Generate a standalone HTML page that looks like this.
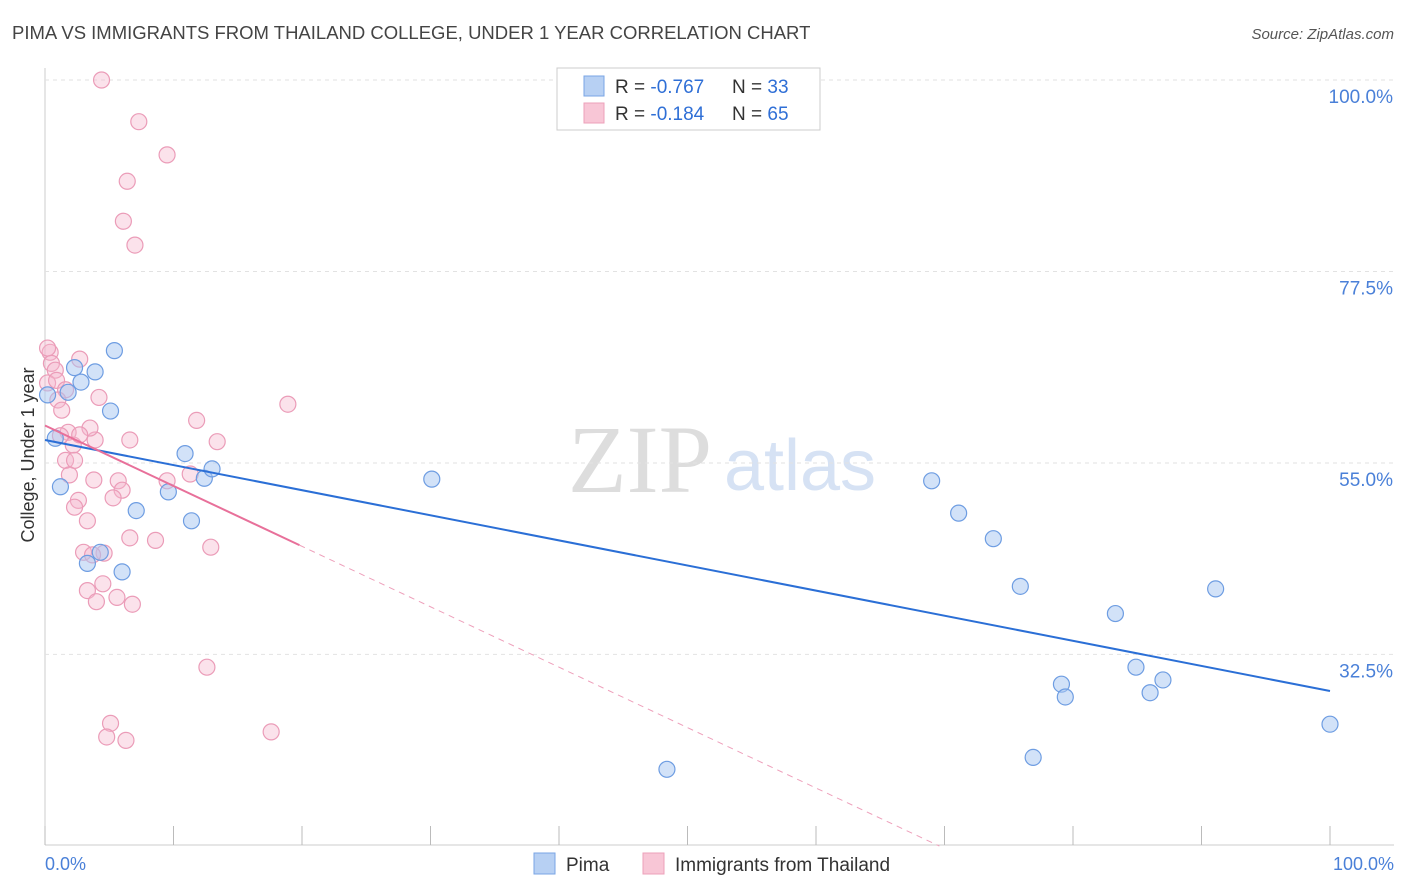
<!DOCTYPE html>
<html><head><meta charset="utf-8"><style>
body{margin:0;background:#fff;font-family:"Liberation Sans",sans-serif;}
svg{display:block}
</style></head><body>
<svg id="chart" width="1406" height="892">
<text x="12" y="39" font-size="18.5" fill="#444">PIMA VS IMMIGRANTS FROM THAILAND COLLEGE, UNDER 1 YEAR CORRELATION CHART</text>
<text x="1394" y="39" font-size="15" fill="#555" font-style="italic" text-anchor="end">Source: ZipAtlas.com</text>
<text x="640" y="492" font-size="96" fill="#ddd" font-family="Liberation Serif,serif" text-anchor="middle">ZIP</text>
<text x="800" y="490" font-size="72" fill="#d6e2f4" text-anchor="middle">atlas</text>
<g id="grid"></g><g id="pts"></g><g id="lines"></g>
<text transform="translate(34,455) rotate(-90)" font-size="18" fill="#333" text-anchor="middle">College, Under 1 year</text>
<text x="45" y="870" font-size="18" fill="#4a80d8">0.0%</text>
<text x="1394" y="870" font-size="18" fill="#4a80d8" text-anchor="end">100.0%</text>
<g>
<rect x="557" y="68" width="263" height="62" fill="#fff" stroke="#ccc"/>
<rect x="584" y="76" width="20" height="20" fill="#b7d0f3" stroke="#7aa5e5"/>
<rect x="584" y="103" width="20" height="20" fill="#f8c6d6" stroke="#eda0ba"/>
<text x="615" y="93" font-size="19" fill="#333">R = <tspan fill="#2f6fd6">-0.767</tspan><tspan x="732">N = </tspan><tspan fill="#2f6fd6">33</tspan></text>
<text x="615" y="120" font-size="19" fill="#333">R = <tspan fill="#2f6fd6">-0.184</tspan><tspan x="732">N = </tspan><tspan fill="#2f6fd6">65</tspan></text>
</g>
<g>
<rect x="534" y="853" width="21" height="21" fill="#b7d0f3" stroke="#7aa5e5"/>
<text x="566" y="871" font-size="19" fill="#333">Pima</text>
<rect x="643" y="853" width="21" height="21" fill="#f8c6d6" stroke="#eda0ba"/>
<text x="675" y="871" font-size="19" fill="#333">Immigrants from Thailand</text>
</g>
</svg>
<script>
const yTicks=[100,77.5,55,32.5];
const xTicks=[0,10,20,30,40,50,60,70,80,90,100];
const pimaX=[5.4,2.3,3.9,2.8,1.8,5.1,0.8,1.2,3.3,4.3,6.0,7.1,9.6,10.9,11.4,12.4,13.0,30.1,48.4,69.0,71.1,73.8,75.9,76.9,79.1,79.4,83.3,84.9,86.0,87.0,91.1,100,0.2];
const pimaY=[68.2,66.2,65.7,64.5,63.3,61.1,57.9,52.2,43.2,44.5,42.2,49.4,51.6,56.1,48.2,53.2,54.3,53.1,19.0,52.9,49.1,46.1,40.5,20.4,29.0,27.5,37.3,31.0,28.0,29.5,40.2,24.3,63.0];
const thaiX=[4.4,7.3,9.5,6.4,6.1,7.0,0.4,2.7,0.5,0.8,0.2,0.9,1.6,1.0,1.3,4.2,18.9,11.8,13.4,6.6,3.9,3.5,1.8,1.2,2.2,2.7,1.6,2.3,1.9,3.8,5.7,6.0,5.3,2.6,2.3,3.3,9.5,11.3,6.6,8.6,12.9,3.0,4.6,3.7,4.5,3.3,5.6,4.0,6.8,12.6,5.1,4.8,6.3,17.6,0.2];
const thaiY=[100,95.1,91.2,88.1,83.4,80.6,68.0,67.2,66.7,65.9,64.4,64.7,63.6,62.4,61.2,62.7,61.9,60.0,57.5,57.7,57.7,59.1,58.6,58.2,57.1,58.3,55.3,55.3,53.6,53.0,52.9,51.8,50.9,50.6,49.8,48.2,52.9,53.7,46.2,45.9,45.1,44.5,44.4,44.2,40.8,40.0,39.2,38.7,38.4,31.0,24.4,22.8,22.4,23.4,68.5];
const pimaTrend=[57.7,28.2];
const thaiTrend=[59.4,-0.71];
const sx=v=>45+v*12.85, sy=v=>80+(100-v)*8.51;
const NS="http://www.w3.org/2000/svg";
function mk(t,a,p){const e=document.createElementNS(NS,t);for(const k in a)e.setAttribute(k,a[k]);p.appendChild(e);return e;}
const grid=document.getElementById('grid');
mk('line',{x1:45,y1:68,x2:45,y2:845,stroke:'#ccc'},grid);
mk('line',{x1:45,y1:845,x2:1394,y2:845,stroke:'#ccc'},grid);
yTicks.forEach(v=>{
 const l=mk('line',{x1:45,y1:sy(v),x2:1394,y2:sy(v),stroke:'#e2e2e2','stroke-dasharray':'4,4'},grid);
 
 
 const t=mk('text',{x:1393,y:sy(v)+23,'font-size':19,fill:'#4a80d8','text-anchor':'end'},grid);
 t.textContent=v.toFixed(1)+'%';
 
 
});
xTicks.forEach(v=>{
 const l=mk('line',{x1:sx(v),y1:826,x2:sx(v),y2:845,stroke:'#bbb'},grid);
 
 
});
const pts=document.getElementById('pts');
thaiX.forEach((x,i)=>{
 const c=mk('circle',{cx:sx(x),cy:sy(thaiY[i]),r:8,fill:'rgba(246,182,204,0.4)',stroke:'#eb9cb8','stroke-width':1.2},pts);
 
 
});
pimaX.forEach((x,i)=>{
 const c=mk('circle',{cx:sx(x),cy:sy(pimaY[i]),r:8,fill:'rgba(165,198,242,0.5)',stroke:'#6e9de2','stroke-width':1.2},pts);
 
 
});
const lines=document.getElementById('lines');
const bl=mk('line',{x1:sx(0),y1:sy(pimaTrend[0]),x2:sx(100),y2:sy(pimaTrend[1]),stroke:'#2b6fd6','stroke-width':2},lines);


const ty=x=>thaiTrend[0]+thaiTrend[1]*x;
const pl=mk('line',{x1:sx(0),y1:sy(ty(0)),x2:sx(19.8),y2:sy(ty(19.8)),stroke:'#e8709a','stroke-width':2},lines);


const pd=mk('line',{x1:sx(19.8),y1:sy(ty(19.8)),x2:sx(69.6),y2:sy(ty(69.6)),stroke:'#eea0bb','stroke-width':1,'stroke-dasharray':'6,5'},lines);


</script>
</body></html>
